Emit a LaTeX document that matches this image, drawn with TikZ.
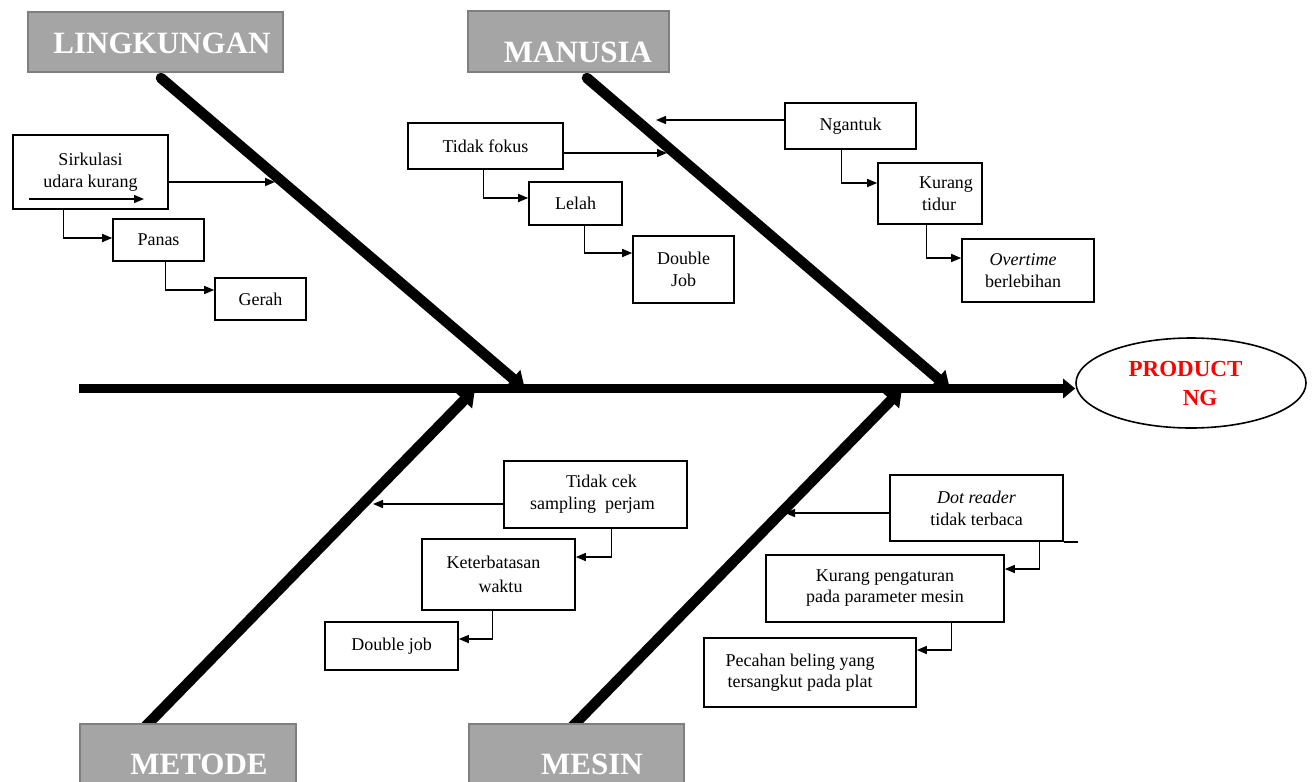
\documentclass[tikz,border=0pt]{standalone}
\usepackage{fontspec}
\setmainfont{Liberation Serif}
\usetikzlibrary{arrows.meta,shapes.geometric,calc}
\definecolor{headgray}{HTML}{A5A5A5}
\definecolor{headedge}{HTML}{7F7F7F}
\begin{document}
\begin{tikzpicture}[x=1pt,y=-1pt]
\tikzset{
 cbox/.style={draw=black, line width=1.6pt, fill=white, align=center, font=\fontsize{18}{22}\selectfont, inner sep=0pt},
 head/.style={draw=headedge, line width=1.6pt, fill=headgray, text=white, font=\fontsize{31}{36}\selectfont\bfseries, inner sep=0pt, text depth=0pt},
 arr/.style={line width=1.4pt, -{Triangle[length=10pt,width=8pt]}},
 bone/.style={line width=10.5pt, -{Triangle[length=16pt,width=22pt]}},
}
\useasboundingbox (0,0) rectangle (1315,782);
\clip (0,0) rectangle (1315,782);
\fill[white] (0,0) rectangle (1315,782);

% effect and spine
\coordinate (sp0) at (79,388.5);
\node[ellipse, draw, line width=1.6pt, minimum width=230pt, minimum height=90pt, inner sep=0pt, align=center, text=red, font=\fontsize{23}{29}\selectfont\bfseries] (ng) at (1191,383) {PRODUCT\hspace*{11pt}\\\hspace*{18pt}NG};
\draw[line width=9pt, -{Triangle[length=12pt,width=19pt]}] (sp0) -- (ng.west |- sp0);

% bones
\coordinate (b1s) at (161,78);  \coordinate (b1e) at (525,389);
\coordinate (b2s) at (587,78);  \coordinate (b2e) at (950,389);
\coordinate (b3s) at (142,730); \coordinate (b3e) at (475,389);
\coordinate (b4s) at (569,730); \coordinate (b4e) at (902,389);
\draw[bone, line cap=round] (b1s) -- (b1e);
\draw[bone, line cap=round] (b2s) -- (b2e);
\draw[bone] (b3s) -- (b3e);
\draw[bone] (b4s) -- (b4e);

% category heads
\node[head, minimum width=255pt, minimum height=60pt, text height=22pt] (lingk) at (155.5,42) {\hspace*{13pt}LINGKUNGAN};
\node[head, minimum width=201pt, minimum height=61pt, text height=41pt] (manus) at (568.5,41.5) {\hspace*{19pt}MANUSIA};
\node[head, minimum width=216pt, minimum height=76pt, text height=25pt] (metode) at (188,762) {\hspace*{22pt}METODE};
\node[head, minimum width=215pt, minimum height=76pt, text height=25pt] (mesin) at (576.5,762) {\hspace*{31pt}MESIN};

% LINGKUNGAN causes
\node[cbox, minimum width=155pt, minimum height=74pt] (sirk) at (90.5,172) {Sirkulasi\\udara kurang};
\node[cbox, minimum width=91pt, minimum height=42pt] (panas) at (158.5,240) {Panas};
\node[cbox, minimum width=91pt, minimum height=42pt] (gerah) at (260.5,299) {Gerah};
\coordinate (b1a) at (275,182);
\draw[arr] (sirk.east |- b1a) -- (b1a);
\draw[arr] (29,199) -- (144,199);
\draw[arr] ($(sirk.south west)+(51,0)$) |- ([yshift=2pt]panas.west);
\draw[arr] ($(panas.south west)+(53,0)$) |- ([yshift=9pt]gerah.west);

% MANUSIA causes
\node[cbox, minimum width=155pt, minimum height=46pt] (tfokus) at (485.5,146) {Tidak fokus};
\node[cbox, minimum width=93pt, minimum height=43pt] (lelah) at (575.5,203.5) {Lelah};
\node[cbox, minimum width=101pt, minimum height=67pt] (djob1) at (683.5,269.5) {Double\\Job};
\coordinate (b2a) at (667,153);
\draw[arr] (tfokus.east |- b2a) -- (b2a);
\draw[arr] ($(tfokus.south west)+(76,0)$) |- ([yshift=5.5pt]lelah.west);
\draw[arr] ($(lelah.south west)+(56,0)$) |- ([yshift=16.5pt]djob1.west);

\node[cbox, minimum width=131pt, minimum height=46pt] (ngantuk) at (850.5,126) {Ngantuk};
\node[cbox, minimum width=104pt, minimum height=61pt] (ktidur) at (930,193.5) {\hspace*{32pt}Kurang\\\hspace*{18pt}tidur};
\node[cbox, minimum width=132pt, minimum height=63pt] (overt) at (1028,270.5) {\textit{Overtime}\hspace*{10pt}\\berlebihan\hspace*{10pt}};
\coordinate (b2b) at (656,120);
\draw[arr] (ngantuk.west |- b2b) -- (b2b);
\draw[arr] ($(ngantuk.south west)+(57,0)$) |- ([yshift=10.5pt]ktidur.west);
\draw[arr] ($(ktidur.south west)+(49,0)$) |- ([yshift=12.5pt]overt.west);

% METODE causes
\node[cbox, minimum width=183pt, minimum height=67pt] (tcek) at (595.5,494.5) {\hspace*{12pt}Tidak cek\\sampling\ \ perjam\hspace*{6pt}};
\node[cbox, minimum width=153pt, minimum height=71pt] (keterb) at (498.5,574.5) {Keterbatasan\hspace*{10pt}\\[2pt]\hspace*{4pt}waktu};
\node[cbox, minimum width=133pt, minimum height=48pt] (djob2) at (391.5,646) {Double job};
\coordinate (b3a) at (373,504);
\draw[arr] (tcek.west |- b3a) -- (b3a);
\draw[arr] ($(tcek.south west)+(108,0)$) |- ([yshift=17.5pt]keterb.east);
\draw[arr] ($(keterb.south west)+(71,0)$) |- ([yshift=7pt]djob2.east);

% MESIN causes
\node[cbox, minimum width=173pt, minimum height=66pt] (dotr) at (976.5,508) {\textit{Dot reader}\\tidak terbaca};
\node[cbox, minimum width=238pt, minimum height=67pt] (kpeng) at (885,588.5) {Kurang pengaturan\\[-1pt]pada parameter mesin};
\node[cbox, minimum width=212pt, minimum height=69pt] (pecah) at (810,672.5) {Pecahan beling yang\hspace*{20pt}\\[-1pt]tersangkut pada plat\hspace*{20pt}};
\coordinate (b4a) at (785,513);
\draw[arr] (dotr.west |- b4a) -- (b4a);
\draw[line width=1.6pt] (dotr.south east) -- ++(14,0);
\draw[arr] ($(dotr.south west)+(150,0)$) |- ([yshift=19.5pt]kpeng.east);
\draw[arr] ($(kpeng.south west)+(186,0)$) |- ([yshift=22.5pt]pecah.east);
\end{tikzpicture}
\end{document}
